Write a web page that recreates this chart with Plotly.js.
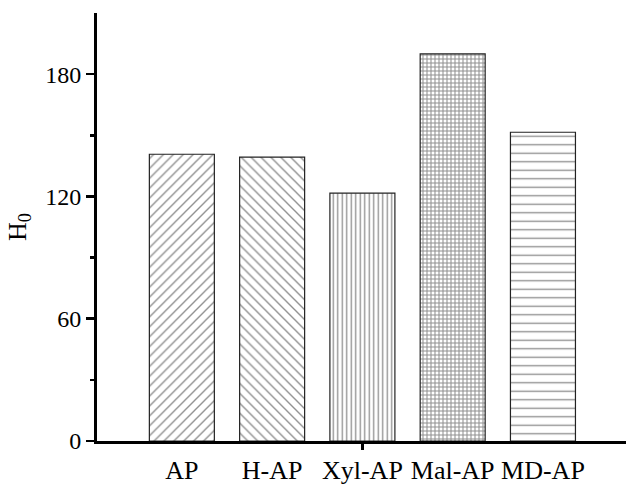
<!DOCTYPE html>
<html>
<head>
<meta charset="utf-8">
<script src="https://cdn.plot.ly/plotly-3.0.1.min.js"></script>
<style>html,body{margin:0;padding:0;background:#fff;}#chart{width:626px;height:484px;}</style>
</head>
<body>
<div id="chart"></div>
<script>
const categories = ['AP', 'H-AP', 'Xyl-AP', 'Mal-AP', 'MD-AP'];
const h0Values = [140.7, 139.3, 121.6, 189.9, 151.5];
const patternShapes = ['/', '\\', '|', '+', '-'];
const patternSizes = [7, 7, 4.5, 4, 8.5];
const patternSolidity = [0.2, 0.2, 0.3, 0.45, 0.16];
const yTickVals = [0, 60, 120, 180];
const yMinorVals = [30, 90, 150];
const xIdx = categories.map((c, i) => i);

const font = {family: '"Liberation Serif", "Times New Roman", serif', size: 24, color: '#000'};
const xFont = {family: '"Liberation Serif", "Times New Roman", serif', size: 26, color: '#000'};

const trace = {
  type: 'bar',
  x: xIdx,
  y: h0Values,
  width: 0.72,
  marker: {
    color: '#fff',
    line: {color: '#222', width: 1.2},
    pattern: {
      shape: patternShapes,
      size: patternSizes,
      solidity: patternSolidity,
      fgcolor: '#222',
      bgcolor: '#fff',
      fillmode: 'overlay'
    }
  },
  hoverinfo: 'skip'
};

const layout = {
  width: 626, height: 484,
  margin: {l: 97, r: 0, t: 13, b: 43},
  paper_bgcolor: '#fff', plot_bgcolor: '#fff',
  font: font,
  showlegend: false,
  xaxis: {
    range: [-0.94, 4.92],
    tickmode: 'array', tickvals: xIdx, ticktext: categories,
    ticks: '', showgrid: false, zeroline: false,
    showline: true, linewidth: 3, linecolor: '#000',
    tickfont: xFont, ticklabelstandoff: 4
  },
  xaxis2: {
    overlaying: 'x', side: 'bottom', anchor: 'y',
    range: [-0.94, 4.92],
    tickmode: 'array', tickvals: [2],
    ticks: 'outside', ticklen: 8, tickwidth: 2.5, tickcolor: '#000',
    showgrid: false, zeroline: false, showline: false, showticklabels: false
  },
  yaxis: {
    range: [0, 210],
    tickmode: 'array', tickvals: yTickVals,
    ticks: 'outside', ticklen: 8, tickwidth: 2.5, tickcolor: '#000',
    minor: {tickmode: 'array', tickvals: yMinorVals, ticks: 'outside', ticklen: 4, tickwidth: 2.5, tickcolor: '#000'},
    showgrid: false, zeroline: false,
    showline: true, linewidth: 3, linecolor: '#000',
    tickfont: font,
    title: {text: 'H<sub>0</sub>', font: xFont, standoff: 12}
  }
};

Plotly.newPlot('chart', [trace, {type: 'scatter', x: [], y: [], xaxis: 'x2', hoverinfo: 'skip'}], layout, {displayModeBar: false, staticPlot: true});
</script>
</body>
</html>
